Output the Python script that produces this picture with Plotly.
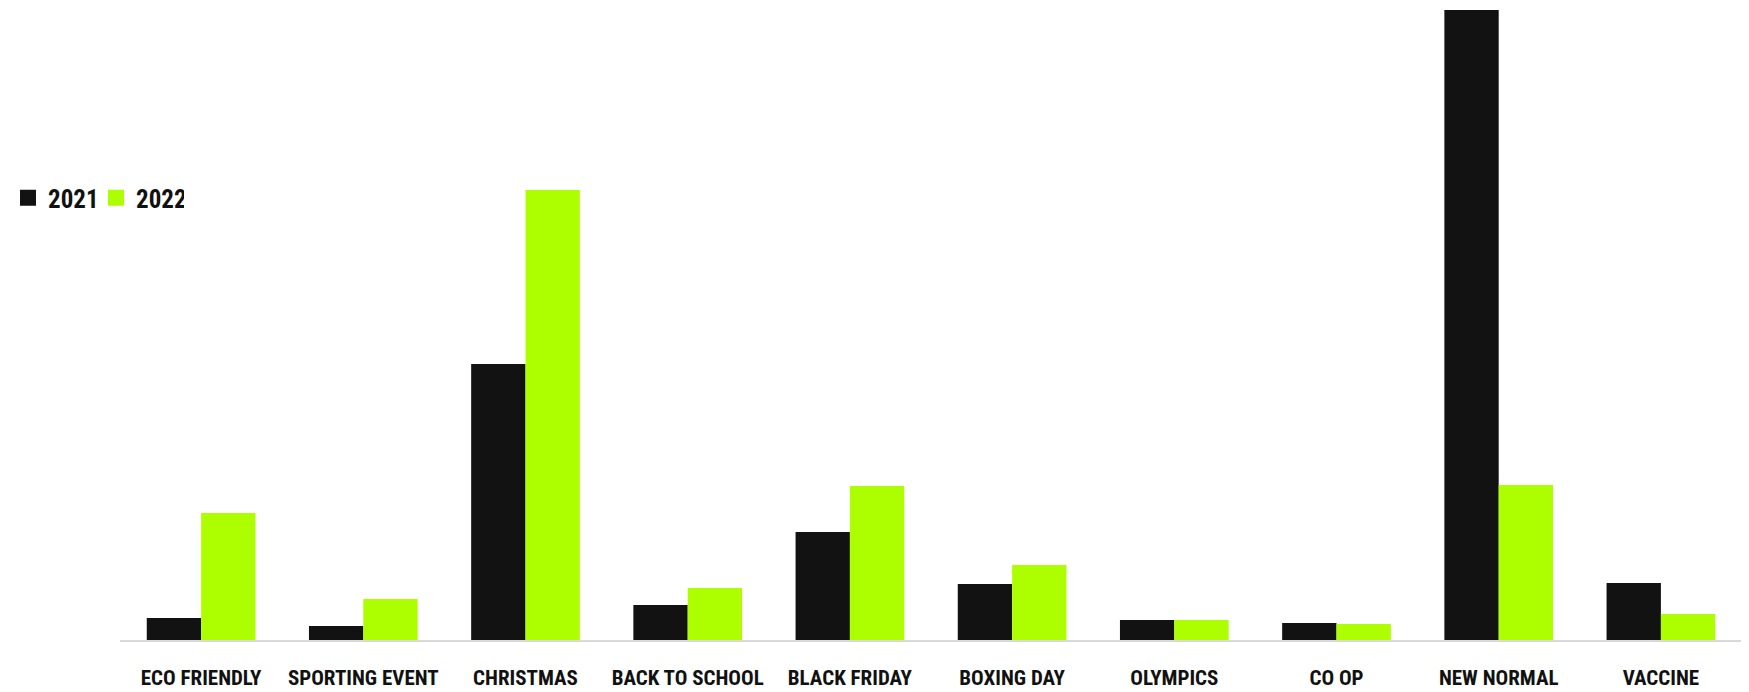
import plotly.graph_objects as go

categories = ["ECO FRIENDLY", "SPORTING EVENT", "CHRISTMAS", "BACK TO SCHOOL", "BLACK FRIDAY",
              "BOXING DAY", "OLYMPICS", "CO OP", "NEW NORMAL", "VACCINE"]
values_2021 = [22, 14, 276, 35, 108, 56, 20, 17, 630, 57]
values_2022 = [127, 41, 450, 52, 154, 75, 20, 16, 155, 26]
series_names = ["2021", "2022"]

BLACK = "#121212"
GREEN = "#ADFF00"
FONT = "Roboto Condensed, Liberation Sans Narrow, Roboto, sans-serif"

fig = go.Figure()
fig.add_trace(go.Bar(x=categories, y=values_2021, name=series_names[0], marker_color=BLACK,
                     marker_line_width=0, showlegend=False))
fig.add_trace(go.Bar(x=categories, y=values_2022, name=series_names[1], marker_color=GREEN,
                     marker_line_width=0, showlegend=False))
# legend entries with larger square swatches
for nm, col in zip(series_names, [BLACK, GREEN]):
    fig.add_trace(go.Scatter(x=[None], y=[None], mode="markers", name=nm,
                             marker=dict(symbol="square", size=16, color=col)))

fig.update_layout(
    width=1749, height=692,
    paper_bgcolor="white", plot_bgcolor="white",
    margin=dict(l=112, r=15, t=2, b=60, autoexpand=False),
    barmode="group", bargap=0.33, bargroupgap=0,
    font=dict(family=FONT, color="#111111"),
    showlegend=True,
    legend=dict(orientation="h", xref="container", yref="container",
                x=-0.001, y=1 - 190 / 692, xanchor="left", yanchor="middle",
                font=dict(size=25, family=FONT, color="#111111", weight="bold"),
                itemwidth=30, entrywidth=43, entrywidthmode="pixels",
                tracegroupgap=0, bgcolor="rgba(0,0,0,0)"),
)
fig.update_xaxes(showline=True, linecolor="#d9d9d9", linewidth=2, showgrid=False,
                 ticks="", ticklabelstandoff=18, tickangle=0, automargin=False,
                 tickfont=dict(size=21, family=FONT, color="#111111", weight="bold"))
fig.update_yaxes(visible=False, range=[0, 630], showgrid=False, zeroline=False)

fig.write_html("out.html")
